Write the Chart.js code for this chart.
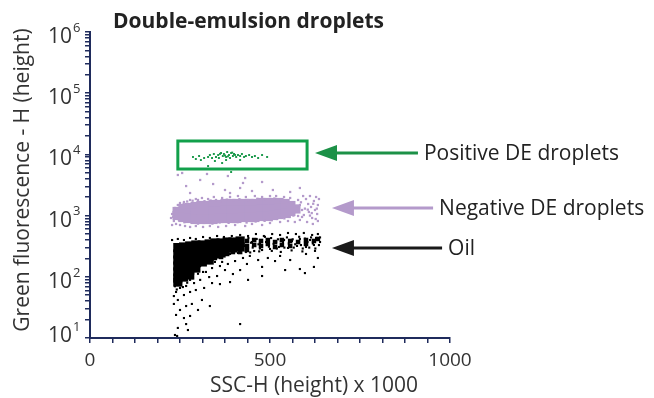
<!DOCTYPE html>
<html>
<head>
<meta charset="utf-8">
<script src="https://cdn.jsdelivr.net/npm/chart.js@4.4.1/dist/chart.umd.min.js"></script>
<style>
  body { margin: 0; background: #fff; }
</style>
</head>
<body>
<canvas id="dotplot" width="654" height="398"></canvas>
<script>
// values: [SSC-H (x1000), green fluorescence]
const posDroplets = [
  [286,9075],[294,8410],[303,9417],[308,8090],[317,8730],[328,9075],[333,9770],[339,8730],
  [344,10160],[350,9075],[356,9770],[358,8730],[364,10540],[369,9417],[372,10160],[378,9075],
  [381,10940],[386,9770],[389,8730],[392,10540],[397,9417],[400,10160],[406,9075],[411,9770],
  [417,9417],[422,10160],[428,9075],[433,9417],[442,9770],[450,9075],[458,9417],[467,8730],
  [478,9770],[492,9075],[328,6450],[378,8090],[367,7230],[392,5150],[347,7800],[417,8090],
  [361,10200],[375,9600],[395,10700],[403,9800],[383,9300]
];

const negCore = [
  [242,1168],[242,1004],
  [258,1307],[258,1062],[258,931],
  [275,1357],[275,1103],[275,897],
  [292,1409],[292,1103],[292,864],
  [308,1462],[308,1146],[308,864],
  [325,1462],[325,1146],[325,864],
  [342,1519],[342,1190],[342,864],
  [358,1519],[358,1190],[358,897],
  [375,1578],[375,1235],[375,897],
  [392,1578],[392,1235],[392,897],
  [408,1578],[408,1235],[408,897],
  [425,1578],[425,1235],[425,931],
  [442,1578],[442,1235],[442,931],
  [458,1578],[458,1235],[458,931],
  [475,1637],[475,1283],[475,967],
  [492,1637],[492,1283],[492,967],
  [508,1637],[508,1283],[508,1004],
  [525,1637],[525,1307],[525,1042],
  [542,1578],[542,1307],[542,1082],
  [558,1462],[558,1168],
  [572,1283]
];

const negDots = [
  [228,1062],[225,914],[233,816],[239,730],[250,702],[264,676],[228,702],[278,652],[294,676],
  [314,652],[333,676],[356,652],[378,676],[403,702],[431,676],[450,730],[478,702],[500,757],
  [528,786],[550,816],[569,786],[583,848],
  [244,1490],[261,1668],[278,1800],[294,1866],[311,1940],[328,1866],[344,2014],[367,1940],
  [389,2014],[411,2089],[433,2014],[458,2089],[478,2014],[500,2089],[517,2089],[539,2014],[556,1940],
  [578,1800],[583,1490],[589,1235],[594,1023],[600,1866],[606,1548],[608,1146],[614,1383],
  [617,914],[622,1733],[625,1235],[628,2014],[631,1062],[633,1490],[633,816],[619,730],
  [603,786],[592,2089],[611,2089],[636,1866],[597,1300],[611,1000],[620,1560],[627,880],
  [586,1650],[605,1250],[630,1300],[616,1100],[589,950],
  [236,1332],[233,1146],[231,949],[250,1607],[575,1435],[569,1146],[578,985],
  [260,1560],[270,1700],[285,1750],[300,1800],[318,1720],[335,1760],[350,1800],[362,1700],
  [380,1820],[398,1760],[415,1850],[440,1800],[465,1880],[487,1820],[512,1900],[530,1800],
  [548,1700],[565,1620],[247,840],[262,780],[283,760],[300,740],[320,760],[340,740],
  [360,770],[385,760],[410,780],[435,770],[460,800],[485,820],[505,840],[520,880],
  [540,900],[555,950],[565,1000],
  [267,3040],[306,3820],[342,3281],[383,4436],[417,2826],[450,2522],[478,3540],[508,2620],
  [556,2432],[244,4610],[375,2620],[583,2826],[431,4110],[256,4966],[325,4786],[425,3412],
  [278,2340],[389,2340]
];

const oilCore = [
  [244,300],[244,236],[244,188],[244,150],[244,120],[244,95.5],[244,82],
  [260,307],[260,245],[260,195],[260,156],[260,124],[260,99],
  [277,319],[277,254],[277,203],[277,162],[277,129],[277,107],
  [294,331],[294,264],[294,211],[294,168],[294,139],
  [312,331],[312,264],[312,211],[312,175],
  [331,344],[331,274],[331,219],[331,188],
  [347,357],[347,285],[347,236],
  [364,357],[364,285],[364,245],
  [381,370],[381,296],
  [397,370],[397,296],
  [417,385],[417,307]
];

const oilBand = [
  [436,385],[436,319],[456,399],[456,331],[475,385],[475,319],[494,399],[494,344],
  [514,370],[514,307],[533,399],[533,331],[556,385],[556,319],[578,370],[600,399],
  [600,344],[622,385],[633,415],[436,274],[417,254],[397,254],[381,236],[364,211],
  [347,203],[331,195]
];

const oilDots = [
  [228,399],[244,415],[261,399],[278,431],[294,415],[314,447],[333,431],[353,464],[372,447],
  [394,464],[417,482],[439,464],[461,500],[483,464],[506,500],[528,482],[550,520],[572,500],
  [594,520],[617,482],[633,500],[628,431],[611,399],[583,415],[561,385],[539,399],[517,370],
  [494,385],[472,357],[450,370],[428,319],[406,307],[383,285],[639,370],[622,331],[600,307],
  [575,319],[550,296],[525,307],[500,285],[478,274],[456,264],[433,254],[411,245],[389,236],
  [367,219],[344,203],[328,188],
  [440,430],[447,360],[452,300],[463,415],[468,340],[472,290],[486,450],[489,370],[497,310],
  [503,430],[510,345],[519,290],[522,410],[536,360],[540,300],[547,440],[552,350],[563,410],
  [566,300],[570,340],[581,450],[586,330],[591,290],[597,420],[604,370],[609,300],[614,440],
  [619,350],[626,290],[630,400],[636,330],[639,440],[445,250],[470,260],[505,265],[530,255],
  [560,270],[590,260],[625,265],
  [306,150],[319,162],[333,168],[347,175],[367,175],[300,129],[314,120],[339,139],[361,150],
  [383,162],[403,181],[425,203],[444,219],[467,188],[494,203],[528,219],[478,145],[436,162],
  [417,129],[397,111],[375,129],[353,103],[331,99],[306,89],[289,79],[278,89],[267,70.8],
  [250,65.7],[239,56.5],[233,48.5],[244,41.8],[261,50.4],[278,56.5],[294,60.8],[317,65.7],
  [339,79],[361,76],[389,82],[439,89],[478,103],[542,129],[583,134],[622,145],[600,236],
  [556,188],[514,181],[233,36],[250,28.7],[267,33.3],[283,36],[300,28.7],[311,41.8],
  [239,23.8],[261,21.2],[278,22.9],[333,33.3],[244,14.6],[267,16.9],[272,13.5],[236,11.2],
  [242,10.8],[417,16.9],[597,115],[633,203],
  [236,70],[241,62],[252,75],[258,68],[285,95],[270,80],[236,90],[300,112],[322,120]
];

const xTickLabels = [0, 500, 1000];
const yDecades = [10, 100, 1000, 10000, 100000, 1000000];

const gateBox = { x1: 244, x2: 603, yTop: 16560, yBottom: 5770 };
const callouts = [
  { text: 'Positive DE droplets', tip: 625, end: 911, y: 10540, color: '#1c9147' },
  { text: 'Negative DE droplets', tip: 672, end: 953, y: 1332, color: '#b49acb' },
  { text: 'Oil', tip: 672, end: 978, y: 296, color: '#1a1a1a' }
];

const navy = '#1f2b5c';
const FONT = "'Open Sans', sans-serif";
const toXY = arr => arr.map(p => ({ x: p[0], y: p[1] }));

function dots(data, color, radius) {
  return {
    data: toXY(data),
    pointStyle: 'rect',
    pointRadius: radius,
    pointBorderWidth: 0,
    pointBackgroundColor: color,
    backgroundColor: color
  };
}

const overlay = {
  id: 'overlay',
  afterDraw(chart) {
    const { ctx, scales: { x, y } } = chart;
    ctx.save();

    // gate around the positive droplets
    ctx.strokeStyle = '#12a04b';
    ctx.lineWidth = 3;
    const gx = x.getPixelForValue(gateBox.x1), gy = y.getPixelForValue(gateBox.yTop);
    ctx.strokeRect(gx, gy, x.getPixelForValue(gateBox.x2) - gx, y.getPixelForValue(gateBox.yBottom) - gy);

    // arrows + labels
    callouts.forEach(c => {
      const tx = x.getPixelForValue(c.tip), ex = x.getPixelForValue(c.end), py = y.getPixelForValue(c.y);
      ctx.strokeStyle = c.color;
      ctx.fillStyle = c.color;
      ctx.lineWidth = 3;
      ctx.beginPath();
      ctx.moveTo(tx + 18, py);
      ctx.lineTo(ex, py);
      ctx.stroke();
      ctx.beginPath();
      ctx.moveTo(tx, py);
      ctx.lineTo(tx + 22, py - 8);
      ctx.lineTo(tx + 22, py + 8);
      ctx.closePath();
      ctx.fill();
      ctx.fillStyle = '#222';
      ctx.font = '21px ' + FONT;
      ctx.textAlign = 'left';
      ctx.textBaseline = 'middle';
      ctx.fillText(c.text, ex + 6, py + 1);
    });

    // y tick labels as 10^n
    ctx.fillStyle = '#333';
    yDecades.forEach(v => {
      const py = Math.min(y.getPixelForValue(v), y.bottom - 7);
      const n = String(Math.round(Math.log10(v)));
      ctx.textBaseline = 'middle';
      ctx.textAlign = 'right';
      ctx.font = '21px ' + FONT;
      ctx.fillText('10', 72, py + 5);
      ctx.textAlign = 'left';
      ctx.font = '13px ' + FONT;
      ctx.fillText(n, 73, py - 4);
    });

    // titles
    ctx.fillStyle = '#222';
    ctx.font = 'bold 21px ' + FONT;
    ctx.textAlign = 'left';
    ctx.textBaseline = 'alphabetic';
    ctx.fillText('Double-emulsion droplets', 113, 28);

    ctx.fillStyle = '#333';
    ctx.font = '21px ' + FONT;
    ctx.textAlign = 'center';
    ctx.textBaseline = 'middle';
    ctx.fillText('SSC-H (height) x 1000', 314, 386);

    ctx.translate(23, 180);
    ctx.rotate(-Math.PI / 2);
    ctx.fillText('Green fluorescence - H (height)', 0, 0);
    ctx.restore();
  }
};

Chart.defaults.font.family = FONT;

new Chart(document.getElementById('dotplot'), {
  type: 'scatter',
  data: {
    datasets: [
      dots(posDroplets, '#1c9a4c', 1.4),
      dots(oilDots, '#000', 1.5),
      dots(oilBand, '#000', 3.2),
      dots(oilCore, '#000', 6.5),
      dots(negDots, '#b49acb', 1.6),
      dots(negCore, '#b49acb', 6.5)
    ]
  },
  options: {
    responsive: false,
    animation: false,
    devicePixelRatio: 1,
    events: [],
    layout: { padding: { top: 32, right: 204, left: 0, bottom: 0 } },
    plugins: { legend: { display: false }, tooltip: { enabled: false } },
    scales: {
      x: {
        type: 'linear',
        min: 0,
        max: 1000,
        afterFit: s => { s.height = 60; },
        ticks: {
          stepSize: 62.5,
          autoSkip: false,
          maxRotation: 0,
          padding: 6,
          color: '#333',
          font: { size: 19 },
          callback: v => xTickLabels.includes(v) ? String(v) : ''
        },
        grid: { drawOnChartArea: false, drawTicks: true, tickLength: 5, color: navy, lineWidth: 1.5 },
        border: { color: navy, width: 2 }
      },
      y: {
        type: 'logarithmic',
        min: 10,
        max: 1000000,
        afterFit: s => { s.width = 90; },
        afterBuildTicks: s => {
          const t = [];
          yDecades.forEach(d => {
            [1, 2, 3, 4, 5, 6, 7, 8, 9].forEach(m => { if (d * m <= 1000000) t.push({ value: d * m }); });
          });
          s.ticks = t;
        },
        ticks: { autoSkip: false, callback: () => '' },
        grid: { drawOnChartArea: false, drawTicks: true, tickLength: 5, color: navy, lineWidth: 1.5 },
        border: { color: navy, width: 2 }
      }
    }
  },
  plugins: [overlay]
});
</script>
</body>
</html>
